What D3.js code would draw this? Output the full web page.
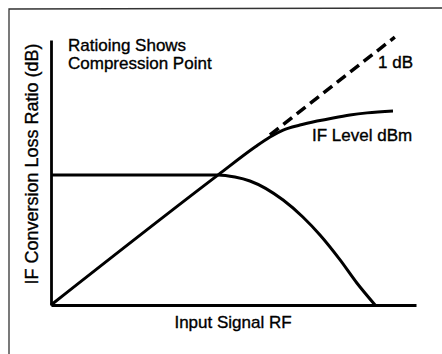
<!DOCTYPE html>
<html><head><meta charset="utf-8">
<script src="https://cdn.jsdelivr.net/npm/d3@7"></script>
<style>
html,body{margin:0;padding:0;background:#fff;}
svg{display:block;font-family:"Liberation Sans",Arial,Helvetica,sans-serif;}
</style></head>
<body>
<svg id="c" width="442" height="354"></svg>
<script>
// Data (relative units 0-100 on both axes)
const lossRatioX = [0, 45.8, 50.4, 54.5, 63.6, 69.0, 73.7, 79.2, 83.8, 88.8];
const lossRatioY = [49.1, 49.1, 48.3, 46.8, 39.6, 33.2, 26.4, 17.0, 8.3, 0];
const ifLevelX = [0, 45.8, 55.9, 60.0, 63.6, 68.2, 72.9, 77.3, 81.9, 86.6, 93.7];
const ifLevelY = [0, 49.1, 59.6, 63.4, 66.0, 67.9, 69.4, 70.6, 71.7, 72.5, 73.2];
const linearX = [60.0, 94.2];
const linearY = [64.2, 101.1];
const titleLines = ["Ratioing Shows", "Compression Point"];
const xLabel = "Input Signal RF";
const yLabel = "IF Conversion Loss Ratio (dB)";
const dashLabel = "1 dB";
const levelLabel = "IF Level dBm";

const svg = d3.select("#c");
const x = d3.scaleLinear().domain([0, 100]).range([51, 416]);
const y = d3.scaleLinear().domain([0, 100]).range([305, 40]);

// frame
svg.append("path").attr("d", "M9,354 L9,9 L442,8")
  .attr("fill", "none").attr("stroke", "#333").attr("stroke-width", 1.3);

// axes
const gx = svg.append("g").attr("transform", `translate(0,${y(0)})`)
  .call(d3.axisBottom(x).tickValues([]).tickSizeOuter(0));
const gy = svg.append("g").attr("transform", `translate(${x(0)},0)`)
  .call(d3.axisLeft(y).tickValues([]).tickSizeOuter(0));
[gx, gy].forEach(g => g.select(".domain").attr("stroke", "#000").attr("stroke-width", 2.8));

const line = d3.line().x(d => x(d[0])).y(d => y(d[1])).curve(d3.curveMonotoneX);
const pts = (xs, ys) => xs.map((v, i) => [v, ys[i]]);

svg.append("path").attr("d", line(pts(lossRatioX, lossRatioY)))
  .attr("fill", "none").attr("stroke", "#000").attr("stroke-width", 3).attr("stroke-linejoin", "round");
svg.append("path").attr("d", line(pts(ifLevelX, ifLevelY)))
  .attr("fill", "none").attr("stroke", "#000").attr("stroke-width", 3).attr("stroke-linejoin", "round");
svg.append("path").attr("d", d3.line().x(d => x(d[0])).y(d => y(d[1]))(pts(linearX, linearY)))
  .attr("fill", "none").attr("stroke", "#000").attr("stroke-width", 3.5).attr("stroke-dasharray", "11,6");

// texts
const txt = sel => sel.attr("fill", "#000").attr("stroke", "#000").attr("stroke-width", 0.35);
const t = svg.append("text").attr("x", 68).attr("y", 51).attr("font-size", 17).call(txt);
titleLines.forEach((s, i) => t.append("tspan").attr("x", 68).attr("dy", i ? 18 : 0).text(s));

svg.append("text").attr("x", 378).attr("y", 68).attr("font-size", 17).call(txt).text(dashLabel);
svg.append("text").attr("x", 312).attr("y", 141).attr("font-size", 17).call(txt).text(levelLabel);
svg.append("text").attr("x", 233).attr("y", 328).attr("font-size", 17).call(txt)
  .attr("text-anchor", "middle").text(xLabel);
svg.append("text").attr("transform", "translate(38,164) rotate(-90)").attr("font-size", 18).call(txt)
  .attr("text-anchor", "middle").text(yLabel);
</script>
</body></html>
